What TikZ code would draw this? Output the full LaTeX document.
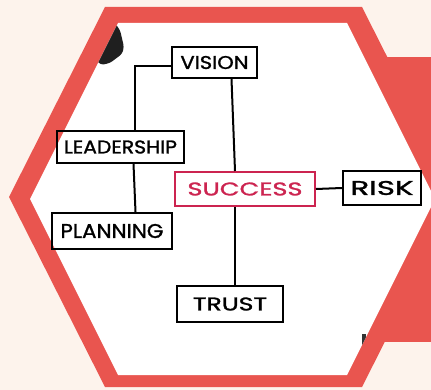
\documentclass[tikz,border=0pt]{standalone}
\usepackage{fontspec}
\setmainfont{Poppins}
\newfontfamily\markerfont{Poppins}[FakeBold=1.3]
\usepackage{graphicx}
\definecolor{bgpeach}{HTML}{FDF3EC}
\definecolor{hexred}{HTML}{E9554F}
\definecolor{crim}{HTML}{CC2450}
\newcommand\fitlbl[3]{\resizebox{#1pt}{#2pt}{#3}}
\begin{document}
\begin{tikzpicture}[x=1pt,y=-1pt,
  box/.style={draw=black,line width=2pt,rectangle,inner sep=0pt,font=\markerfont\fontsize{16}{16}\selectfont},
  conn/.style={draw=black,line width=2pt}]
\useasboundingbox (0,0) rectangle (431,390);
% background
\fill[bgpeach] (0,0) rectangle (431,390);
% red rectangle on the right
\fill[hexred] (385,57) rectangle (431,342);
% outer red hexagon
\fill[hexred] (105,7) -- (362,7) -- (458,197) -- (362,387) -- (105,387) -- (9,197) -- cycle;
% inner white hexagon
\fill[white] (118,23) -- (347,23) -- (435,199) -- (347,375) -- (118,375) -- (30,199) -- cycle;
% marker objects seen on the board
\begin{scope}
\clip (118,23) -- (347,23) -- (435,199) -- (347,375) -- (118,375) -- (30,199) -- cycle;
\fill[black!88, rounded corners=3pt] (114,22) -- (120,30) -- (124,47) -- (122,54) -- (110,63) -- (101,65) -- (96,60) -- cycle;
\fill[black!80] (362,334) rectangle (366,346);
\end{scope}
% nodes
\node[box, minimum width=85pt, minimum height=31pt] (vision) at (214.5,62.5) {\fitlbl{68}{13}{VISION}};
\node[box, minimum width=127pt, minimum height=32pt] (leadership) at (120.5,147) {\fitlbl{113}{13}{LEADERSHIP}};
\node[box, minimum width=120pt, minimum height=36pt] (planning) at (112,231) {\fitlbl{103}{14}{PLANNING}};
\node[box, draw=crim, minimum width=140pt, minimum height=34pt, text=crim] (success) at (245,189) {\fitlbl{115}{13}{SUCCESS}};
\node[box, minimum width=78pt, minimum height=34pt] (risk) at (382,188) {\fitlbl{63}{14}{RISK}};
\node[box, minimum width=106pt, minimum height=36pt] (trust) at (230,304) {\fitlbl{74}{13}{TRUST}};
% connectors
\draw[conn] ([yshift=-3.5pt]vision.west) -| ([xshift=14.5pt]leadership.north);
\draw[conn] ([xshift=13pt]leadership.south) -- ([xshift=23.5pt]planning.north);
\draw[conn] ([xshift=17pt]vision.south) -- ([xshift=-10pt]success.north);
\draw[conn] ([xshift=-10pt]success.south) -- ([xshift=5pt]trust.north);
\draw[conn] (success.east) -- (risk.west);
\end{tikzpicture}
\end{document}
